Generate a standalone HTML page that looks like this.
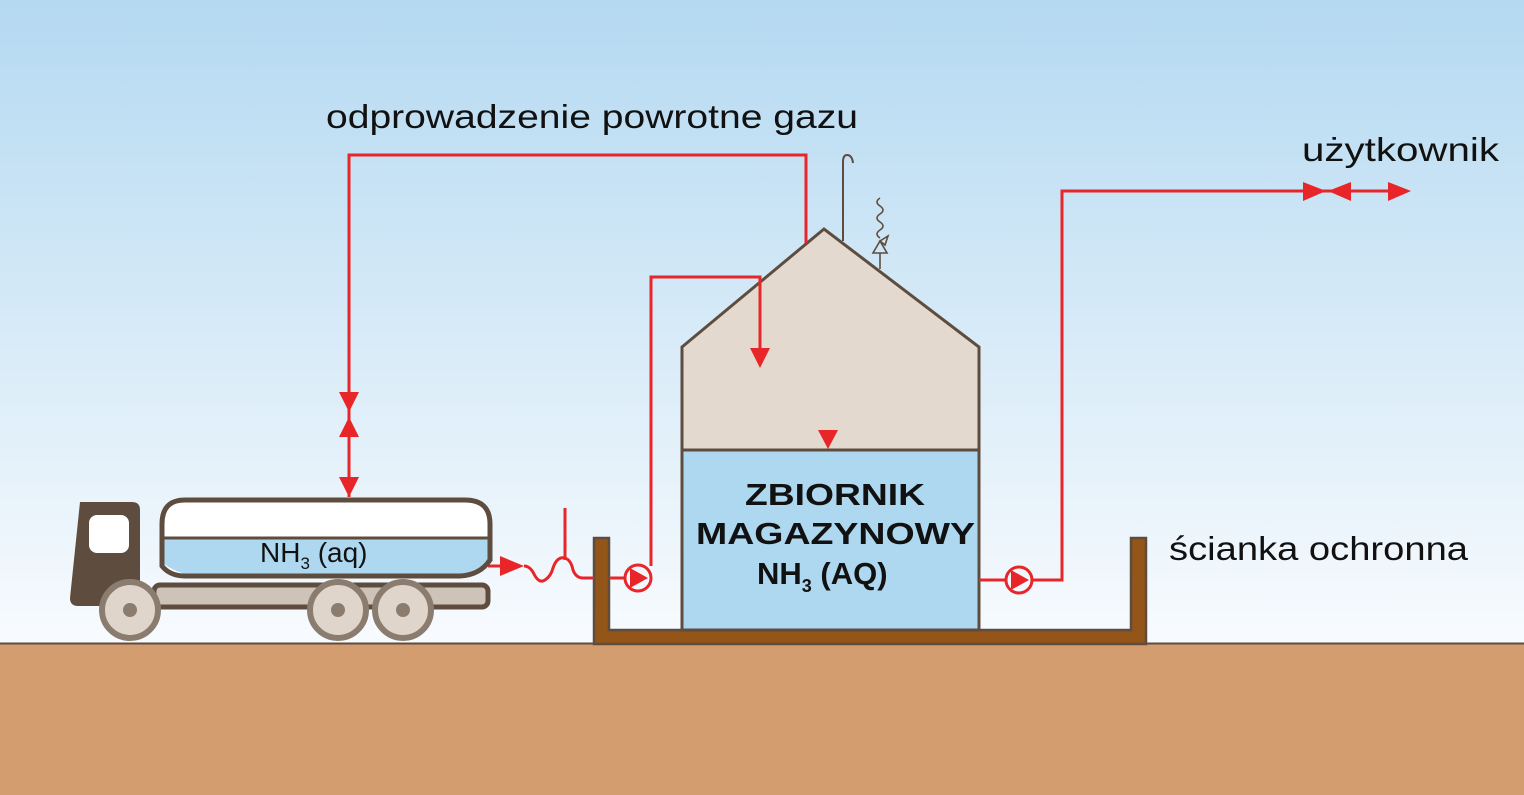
<!DOCTYPE html>
<html><head><meta charset="utf-8"><style>
html,body{margin:0;padding:0;width:1524px;height:795px;overflow:hidden}
text{font-family:"Liberation Sans",sans-serif}
</style></head><body>
<svg width="1524" height="795" viewBox="0 0 1524 795" xmlns="http://www.w3.org/2000/svg">
<defs><linearGradient id="sky" x1="0" y1="0" x2="0" y2="1">
<stop offset="0" stop-color="#b4d9f1"/><stop offset="1" stop-color="#f8fbfe"/></linearGradient></defs>
<rect width="1524" height="643" fill="url(#sky)"/>
<rect y="643" width="1524" height="152" fill="#d39d70"/>
<line x1="0" y1="643.5" x2="1524" y2="643.5" stroke="#5e4d3f" stroke-width="2"/>

<path d="M594,538 H609 V630 H1131 V538 H1146 V644 H594 Z" fill="#935518" stroke="#5e4d3f" stroke-width="2.5"/>

<path d="M682,347 L824,229 L979,347 V450 H682 Z" fill="#e4d9ce" stroke="#5e4d3f" stroke-width="3"/>
<rect x="682" y="450" width="297" height="180" fill="#aed7f0" stroke="#5e4d3f" stroke-width="3"/>
<text x="745" y="505" font-size="31" font-weight="bold" fill="#111" textLength="180" lengthAdjust="spacingAndGlyphs">ZBIORNIK</text>
<text x="696" y="544" font-size="31" font-weight="bold" fill="#111" textLength="279" lengthAdjust="spacingAndGlyphs">MAGAZYNOWY</text>
<text x="757" y="584" font-size="31" font-weight="bold" fill="#111">NH<tspan font-size="18" dy="8">3</tspan><tspan dy="-8"> (AQ)</tspan></text>

<path d="M843,241 V162 Q843,155 847,155 Q852,155 853,163" fill="none" stroke="#5e4d3f" stroke-width="2"/>
<path d="M880,269 V253 M873,253 H887 L880,241 Z M880,241 L888,236 L885,245 Z M880,238 q-6,-4 0,-8 q6,-4 0,-8 q-6,-4 0,-8 q6,-4 0,-8 q-6,-4 0,-8" fill="none" stroke="#5e4d3f" stroke-width="1.6"/>

<g stroke="#e8262a" stroke-width="3" fill="none">
<path d="M349,497 V155 H806 V243"/>
<path d="M651,566 V277 H760 V350"/>
<path d="M979,580 H1007 M1031,580 H1062 V191 H1395"/>
<path d="M488,566 H500 M524,566 q6,0 10,8 q5,10 11,6 q6,-4 8,-12 q4,-12 12,-10 q6,2 8,12 q3,8 10,8 H594 M609,578 H626 M565,508 V560"/>
<circle cx="638" cy="578" r="13"/>
<circle cx="1019" cy="580" r="13"/>
</g>
<g fill="#e8262a">
<path d="M339,392 H359 L349,412 Z"/>
<path d="M339,437 H359 L349,417 Z"/>
<path d="M339,477 H359 L349,497 Z"/>
<path d="M750,348 H770 L760,368 Z"/>
<path d="M818,430 H838 L828,449 Z"/>
<path d="M285,517 H305 L295,535 Z"/>
<path d="M500,556 L524,566 L500,576 Z"/>
<path d="M630,568 L648,578 L630,588 Z"/>
<path d="M1011,570 L1029,580 L1011,590 Z"/>
<path d="M1303,182 L1326,191 L1303,201 Z"/>
<path d="M1351,182 L1328,191 L1351,201 Z"/>
<path d="M1388,182 L1411,191 L1388,201 Z"/>
</g>

<path d="M80,502 H132 Q140,502 140,510 V606 H78 Q70,606 70,598 Z" fill="#5e4d3f"/>
<rect x="89" y="515" width="40" height="38" rx="8" fill="#fff"/>
<rect x="154" y="585" width="334" height="22" rx="6" fill="#cdc3b8" stroke="#5e4d3f" stroke-width="5"/>
<path d="M185,500 H465 Q490,500 490,524 V560 Q480,575 460,576 H185 Q170,576 162,566 V524 Q162,500 185,500 Z" fill="#fff"/>
<path d="M164,538 H488 V560 Q480,573 460,574 H185 Q172,570 164,564 Z" fill="#aed7f0"/>
<line x1="162" y1="538" x2="490" y2="538" stroke="#5e4d3f" stroke-width="3"/>
<path d="M185,500 H465 Q490,500 490,524 V560 Q480,575 460,576 H185 Q170,576 162,566 V524 Q162,500 185,500 Z" fill="none" stroke="#5e4d3f" stroke-width="5"/>
<text x="260" y="562" font-size="28" fill="#111">NH<tspan font-size="17" dy="7">3</tspan><tspan dy="-7"> (aq)</tspan></text>
<g fill="#e0d5ca" stroke="#8a7d70" stroke-width="6">
<circle cx="130" cy="610" r="28"/><circle cx="338" cy="610" r="28"/><circle cx="403" cy="610" r="28"/>
</g>
<g fill="#8a7d70"><circle cx="130" cy="610" r="7"/><circle cx="338" cy="610" r="7"/><circle cx="403" cy="610" r="7"/></g>

<text x="326" y="128" font-size="33" fill="#111" textLength="532" lengthAdjust="spacingAndGlyphs">odprowadzenie powrotne gazu</text>
<text x="1302" y="161" font-size="33" fill="#111" textLength="197" lengthAdjust="spacingAndGlyphs">użytkownik</text>
<text x="1169" y="560" font-size="33" fill="#111" textLength="299" lengthAdjust="spacingAndGlyphs">ścianka ochronna</text>
</svg>
</body></html>
